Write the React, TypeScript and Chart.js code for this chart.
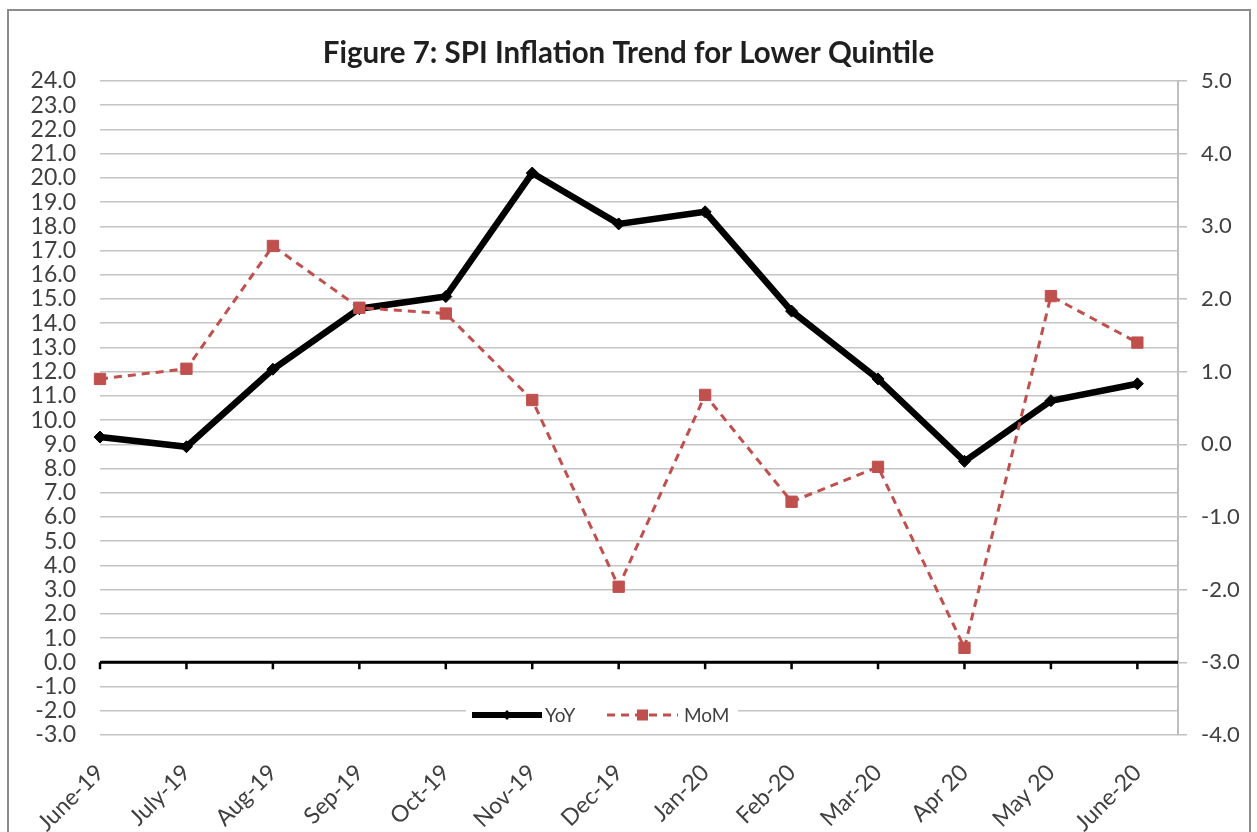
import React, { useEffect, useRef } from 'react';
import { Chart, registerables } from 'chart.js';

Chart.register(...registerables);

// ---- data ----
const categories = ['June-19', 'July-19', 'Aug-19', 'Sep-19', 'Oct-19', 'Nov-19', 'Dec-19', 'Jan-20', 'Feb-20', 'Mar-20', 'Apr 20', 'May 20', 'June-20'];
const yoyValues = [9.3, 8.9, 12.1, 14.6, 15.1, 20.2, 18.1, 18.6, 14.5, 11.7, 8.3, 10.8, 11.5];
const momValues = [0.9, 1.04, 2.73, 1.88, 1.8, 0.61, -1.96, 0.68, -0.79, -0.31, -2.8, 2.04, 1.4];
const seriesNames = ['YoY', 'MoM'];
const chartTitle = 'Figure 7: SPI Inflation Trend for Lower Quintile';
const leftAxisRange = [-3, 24];
const rightAxisRange = [-4, 5];

const FONT = 'Lato, "Open Sans", "DejaVu Sans", sans-serif';
const TEXT = '#404040';
const RED = '#c0504d';

const decorPlugin = {
  id: 'decor',
  beforeDatasetsDraw(chart: any) {
    const { ctx, chartArea, scales } = chart;
    const y0 = scales.y.getPixelForValue(0);
    ctx.save();
    ctx.strokeStyle = '#000';
    ctx.lineWidth = 3;
    ctx.beginPath();
    ctx.moveTo(chartArea.left, y0);
    ctx.lineTo(chartArea.right, y0);
    ctx.stroke();
    ctx.lineWidth = 2.5;
    ctx.beginPath();
    categories.forEach((_, i) => {
      const px = scales.x.getPixelForValue(i);
      ctx.moveTo(px, y0);
      ctx.lineTo(px, y0 + 7);
    });
    ctx.stroke();
    ctx.restore();
  },
  afterDatasetsDraw(chart: any) {
    const { ctx, chartArea } = chart;
    const cy = chartArea.bottom - 20;
    const left = chartArea.left + 366;
    ctx.save();
    ctx.fillStyle = '#fff';
    ctx.fillRect(left, cy - 11, 272, 22);
    // YoY
    ctx.strokeStyle = '#000';
    ctx.lineWidth = 6;
    ctx.beginPath();
    ctx.moveTo(left + 6, cy);
    ctx.lineTo(left + 76, cy);
    ctx.stroke();
    ctx.fillStyle = '#000';
    ctx.beginPath();
    ctx.moveTo(left + 41, cy - 5);
    ctx.lineTo(left + 46, cy);
    ctx.lineTo(left + 41, cy + 5);
    ctx.lineTo(left + 36, cy);
    ctx.closePath();
    ctx.fill();
    ctx.font = `19px ${FONT}`;
    ctx.fillStyle = TEXT;
    ctx.textBaseline = 'middle';
    ctx.textAlign = 'left';
    ctx.fillText(seriesNames[0], left + 79, cy + 1);
    // MoM
    ctx.strokeStyle = RED;
    ctx.lineWidth = 3;
    ctx.setLineDash([8, 6]);
    ctx.beginPath();
    ctx.moveTo(left + 141, cy);
    ctx.lineTo(left + 212, cy);
    ctx.stroke();
    ctx.setLineDash([]);
    ctx.fillStyle = RED;
    ctx.fillRect(left + 171, cy - 5.5, 11, 11);
    ctx.fillStyle = TEXT;
    ctx.fillText(seriesNames[1], left + 218, cy + 1);
    ctx.restore();
  },
};

export default function App() {
  const ref = useRef<HTMLCanvasElement>(null);

  useEffect(() => {
    const chart = new Chart(ref.current as HTMLCanvasElement, {
      type: 'line',
      data: {
        datasets: [
          {
            label: seriesNames[0],
            data: yoyValues.map((v, i) => ({ x: i, y: v })),
            yAxisID: 'y',
            borderColor: '#000',
            backgroundColor: '#000',
            borderWidth: 6.5,
            borderJoinStyle: 'miter',
            pointStyle: 'rectRot',
            pointRadius: 6,
            pointBorderWidth: 1,
            pointBackgroundColor: '#000',
            pointBorderColor: '#000',
            tension: 0,
            clip: false,
            order: 1,
          } as any,
          {
            label: seriesNames[1],
            data: momValues.map((v, i) => ({ x: i, y: v })),
            yAxisID: 'y1',
            borderColor: RED,
            backgroundColor: RED,
            borderWidth: 3,
            borderDash: [8, 6],
            pointStyle: 'rect',
            pointRadius: 8,
            pointBorderWidth: 1,
            pointBackgroundColor: RED,
            pointBorderColor: RED,
            tension: 0,
            clip: false,
            order: 0,
          } as any,
        ],
      },
      options: {
        responsive: false,
        animation: false,
        devicePixelRatio: 1,
        layout: { padding: 0 },
        plugins: {
          legend: { display: false },
          tooltip: { enabled: false },
          title: {
            display: true,
            text: chartTitle,
            color: '#1f1f1f',
            font: { family: FONT, size: 29.5, weight: 'bold', lineHeight: 1.2 },
            padding: { top: 35.3, bottom: 10.3 },
          },
        },
        scales: {
          x: {
            type: 'linear',
            bounds: 'data',
            min: 0,
            max: 12.47,
            afterFit: (s: any) => {
              s.height = 97;
            },
            grid: { display: false, drawTicks: false },
            border: { display: false },
            ticks: {
              stepSize: 1,
              autoSkip: false,
              includeBounds: false,
              maxRotation: 45,
              minRotation: 45,
              padding: 24,
              color: TEXT,
              font: { family: FONT, size: 23 },
              callback: (v: any) => (Number.isInteger(v) ? categories[v] ?? '' : ''),
            },
          },
          y: {
            position: 'left',
            min: leftAxisRange[0],
            max: leftAxisRange[1],
            afterFit: (s: any) => {
              s.width = 100;
            },
            grid: { color: '#c4c4c4', lineWidth: 1.5, drawTicks: false },
            border: { display: false },
            ticks: {
              stepSize: 1,
              autoSkip: false,
              padding: 24,
              color: TEXT,
              font: { family: FONT, size: 23, lineHeight: 1 },
              callback: (v: any) => Number(v).toFixed(1),
            },
          },
          y1: {
            position: 'right',
            min: rightAxisRange[0],
            max: rightAxisRange[1],
            afterFit: (s: any) => {
              s.width = 79;
            },
            grid: { drawOnChartArea: false, drawTicks: true, tickLength: 9, color: '#bfbfbf', lineWidth: 1.5 },
            border: { display: true, color: '#bfbfbf', width: 2 },
            ticks: {
              stepSize: 1,
              autoSkip: false,
              padding: 14,
              color: TEXT,
              font: { family: FONT, size: 22, lineHeight: 1 },
              callback: (v: any) => Number(v).toFixed(1),
            },
          },
        },
      } as any,
      plugins: [decorPlugin],
    });
    return () => chart.destroy();
  }, []);

  return (
    <div style={{ position: 'fixed', left: 0, top: 0, width: 1257, height: 832, overflow: 'hidden', background: '#fff' }}>
      <div
        style={{
          position: 'absolute',
          left: 7,
          top: 9,
          width: 1244,
          height: 900,
          border: '2px solid #8c8c8c',
          boxSizing: 'border-box',
        }}
      />
      <canvas ref={ref} width={1257} height={832} style={{ position: 'absolute', left: 0, top: 0, width: 1257, height: 832 }} />
    </div>
  );
}
